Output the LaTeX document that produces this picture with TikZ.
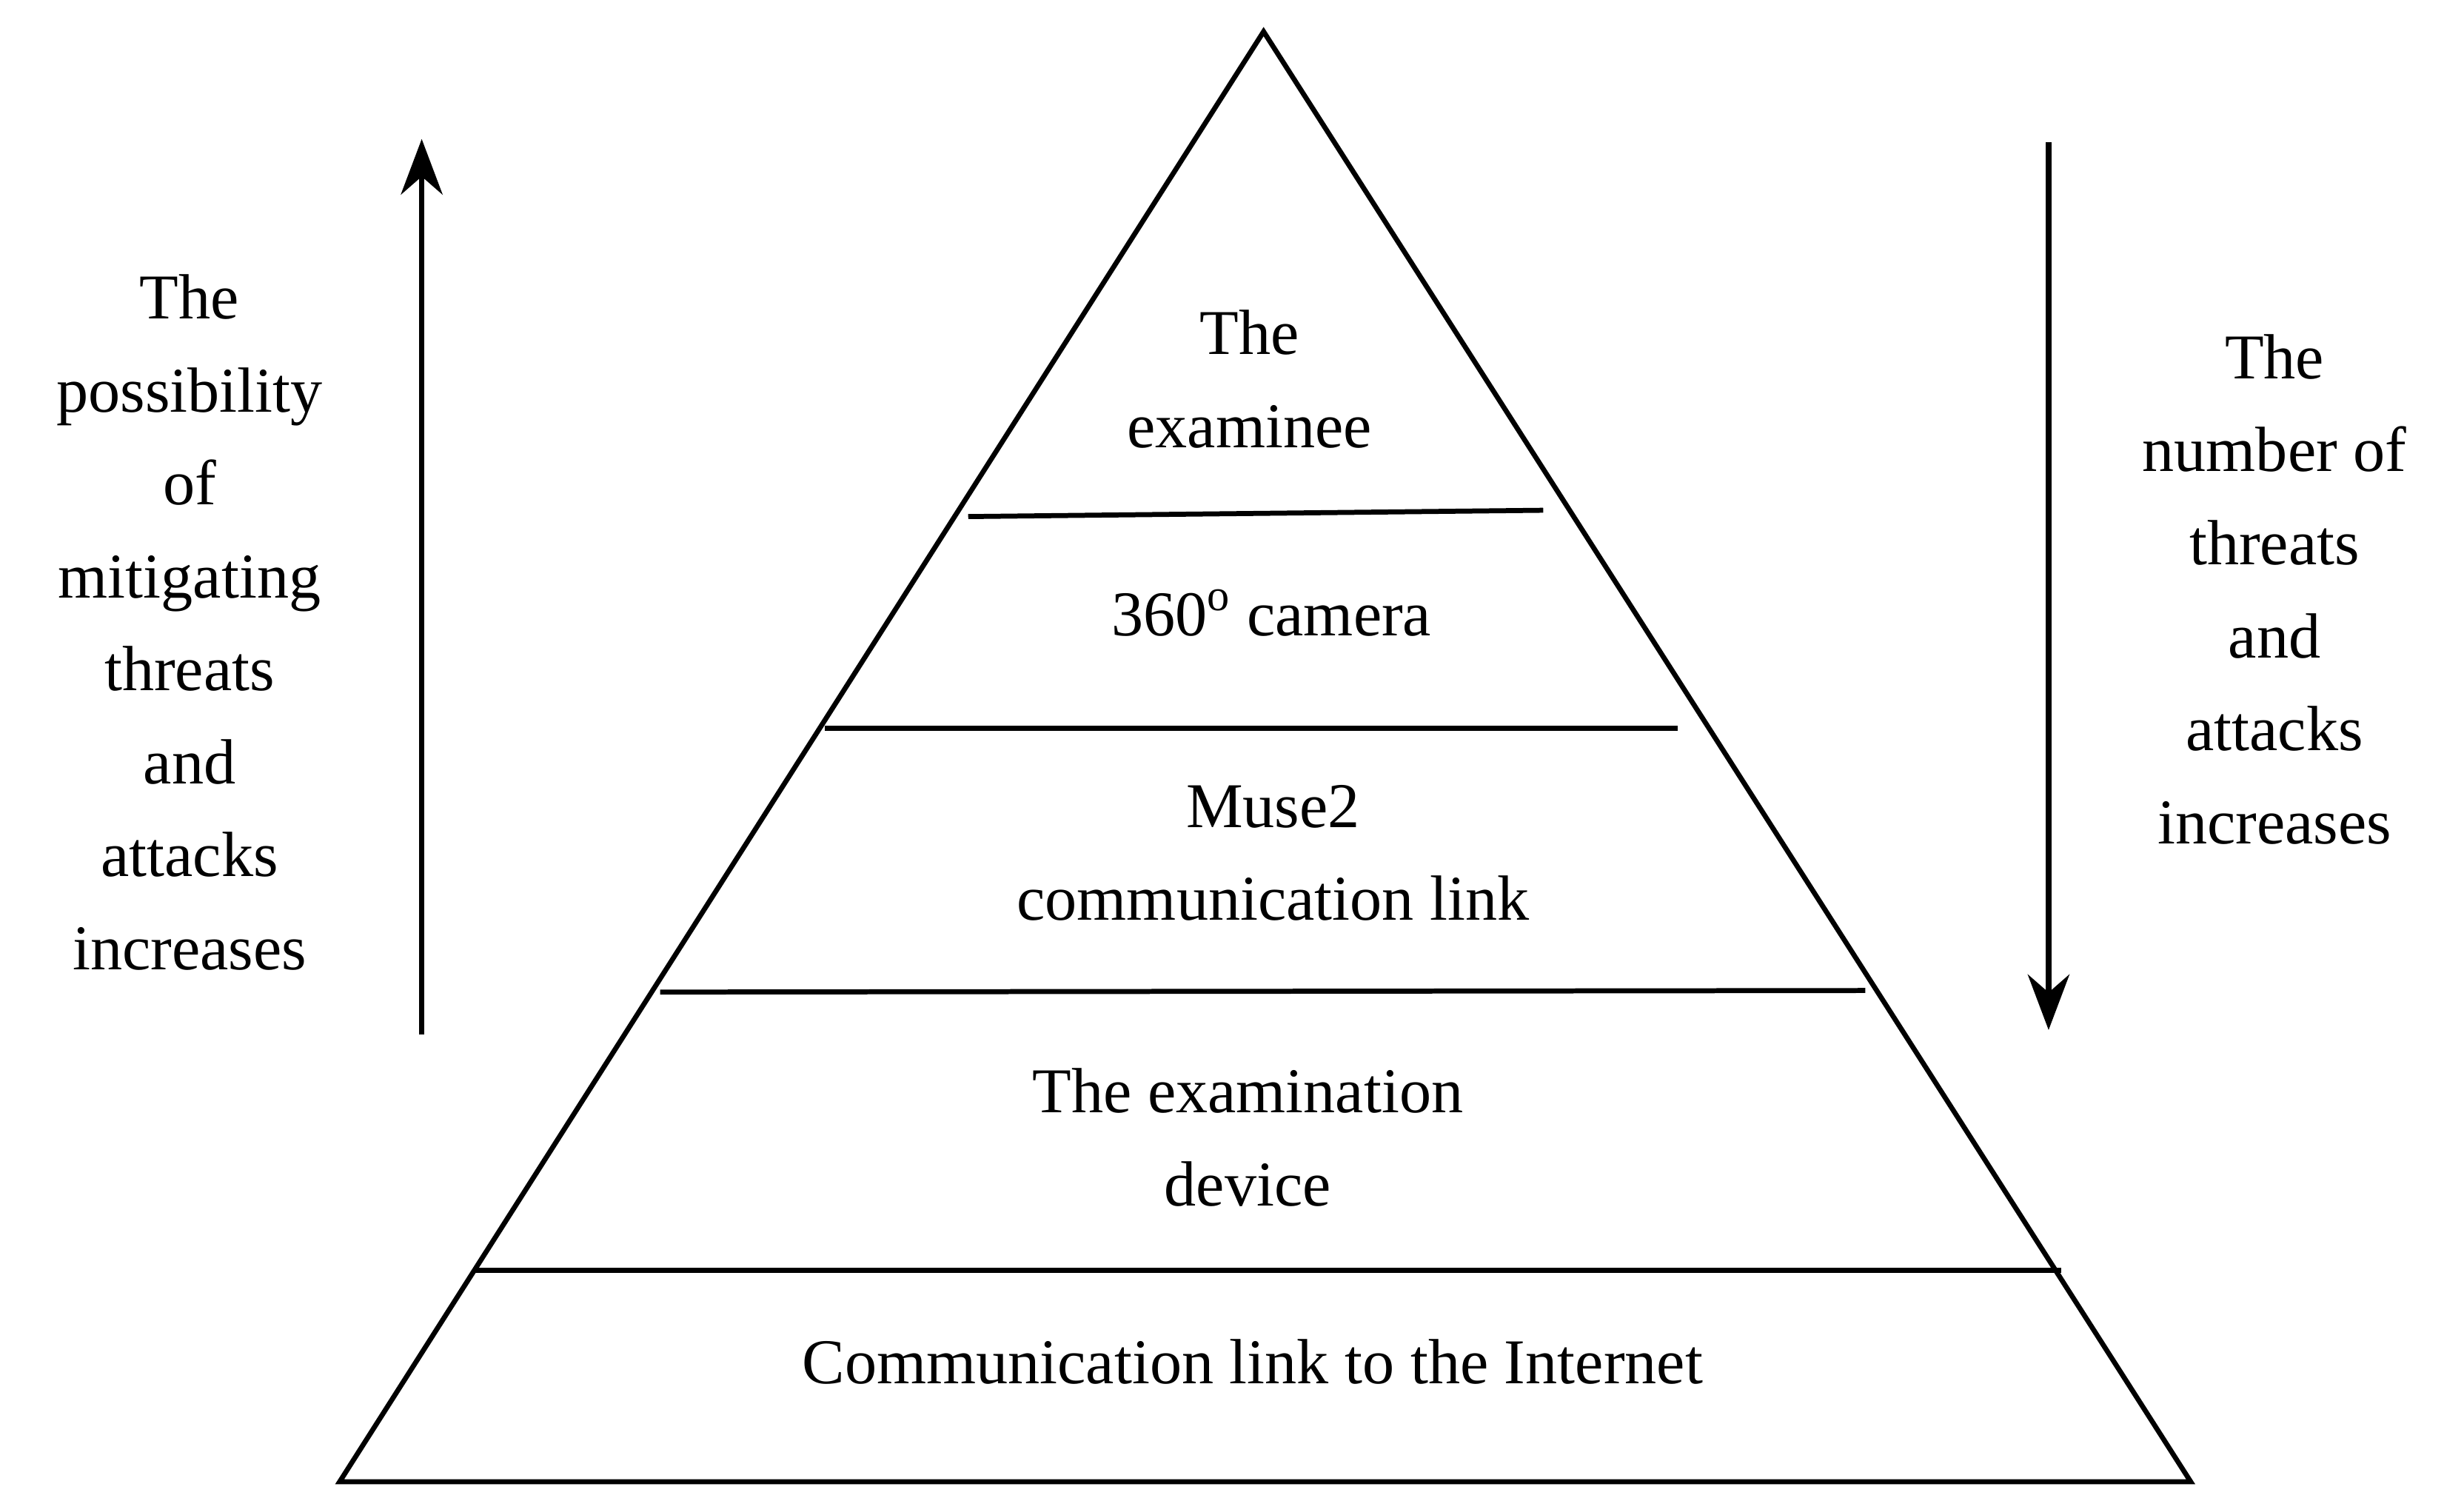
\documentclass[tikz,border=0pt]{standalone}
\usepackage{fontspec}
\setmainfont{Liberation Serif}
\usetikzlibrary{arrows.meta}
\begin{document}
\begin{tikzpicture}[x=0.02cm,y=-0.02cm,line width=1.8pt,
  lbl/.style={align=center,font=\fontsize{23}{33.5}\selectfont,inner sep=0pt},
  arr/.style={-{Stealth[length=20pt,width=15pt]},line width=2pt}]
\useasboundingbox (0,0) rectangle (1560,950);
\coordinate (A) at (800,20);
\coordinate (L) at (215,938);
\coordinate (R) at (1387,938);
\draw (A) -- (L) -- (R) -- cycle;
\draw (613,327) -- (977,323);
\draw (522,461) -- (1062,461);
\draw (418,628) -- (1181,627);
\draw (300,804) -- (1305,804);
\coordinate (u1) at (267,655); \coordinate (u2) at (267,88);
\coordinate (d1) at (1297,90); \coordinate (d2) at (1297,652);
\draw[arr] (u1) -- (u2);
\draw[arr] (d1) -- (d2);
\node[lbl] (t1) at (791,240) {The\\examinee};
\node[lbl] (t2) at (805,388) {360\textsuperscript{o} camera};
\node[lbl] (t3) at (806,540) {Muse2\\communication link};
\node[lbl] (t4) at (790,720) {The examination\\device};
\node[lbl] (t5) at (793,862) {Communication link to the Internet};
\node[lbl] (lt) at (120,394) {The\\possibility\\of\\mitigating\\threats\\and\\attacks\\increases};
\node[lbl] (rt) at (1440,373) {The\\number of\\threats\\and\\attacks\\increases};
\end{tikzpicture}
\end{document}
